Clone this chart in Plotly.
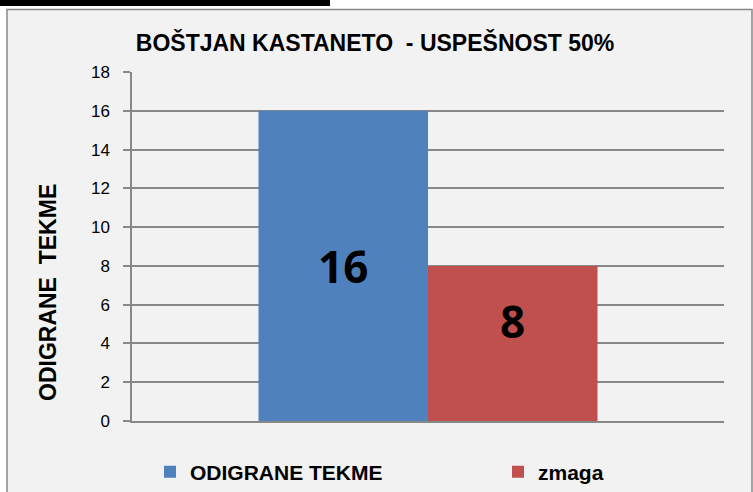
import plotly.graph_objects as go

# ---- data ----
series_names = ["ODIGRANE TEKME", "zmaga"]
series_values = [16, 8]
series_colors = ["#4f81bd", "#c0504d"]
y_ticks = [0, 2, 4, 6, 8, 10, 12, 14, 16, 18]
title_text = "BOŠTJAN KASTANETO  - USPEŠNOST 50%"
y_title = "ODIGRANE  TEKME"

W, H = 753, 492
L, R, T, B = 132, 29, 72, 71
pw, ph = W - L - R, H - T - B

FONT = "Liberation Sans, Arial, sans-serif"
BARGAP = 0.4274


def px_x(p):
    return (p - L) / pw


def px_y(p):
    return (H - B - p) / ph


legend_x = [150, 498]

fig = go.Figure()
for i, (name, val, col) in enumerate(zip(series_names, series_values, series_colors)):
    fig.add_trace(go.Bar(
        x=[0], y=[val], name=name, marker=dict(color=col, line=dict(width=0)),
        hoverinfo="skip", legend="legend" if i == 0 else f"legend{i + 1}",
    ))

# data labels
half = (1 - BARGAP) / 4
label_shift = [0, 22]
for i, (val, ys) in enumerate(zip(series_values, label_shift)):
    fig.add_annotation(
        x=(-half if i == 0 else half), y=val / 2, xref="x", yref="y",
        text=f"<b>{val}</b>", showarrow=False, yshift=ys,
        font=dict(family="Open Sans, sans-serif", size=44, color="black"),
    )

shapes = [
    dict(type="rect", xref="paper", yref="paper", layer="below",
         x0=px_x(7), x1=px_x(752), y0=px_y(520), y1=px_y(9.5),
         fillcolor="#f2f2f2", line=dict(color="#888888", width=1.5)),
    dict(type="rect", xref="paper", yref="paper", layer="above",
         x0=px_x(-2), x1=px_x(330), y0=px_y(6), y1=px_y(-2),
         fillcolor="black", line=dict(width=0)),
]

fig.add_annotation(
    x=px_x(47.5), y=px_y(292.5), xref="paper", yref="paper",
    text=f"<b>{y_title}</b>", textangle=-90, showarrow=False,
    font=dict(family=FONT, size=23, color="black"),
    xanchor="center", yanchor="middle",
)

legend_common = dict(orientation="h", xanchor="left", y=px_y(472), yanchor="middle",
                     xref="paper", yref="paper", bgcolor="rgba(0,0,0,0)",
                     font=dict(family=FONT, size=21, color="black", weight="bold"))

fig.update_layout(
    width=W, height=H,
    margin=dict(l=L, r=R, t=T, b=B, autoexpand=False),
    paper_bgcolor="white", plot_bgcolor="rgba(0,0,0,0)",
    barmode="group", bargap=BARGAP, bargroupgap=0,
    shapes=shapes,
    title=dict(text=f"<b>{title_text}</b>", x=375 / W, xref="container", xanchor="center",
               y=1 - 43 / H, yref="container", yanchor="middle",
               font=dict(family=FONT, size=23, color="black")),
    xaxis=dict(range=[-0.5, 0.5], showticklabels=False, ticks="", showgrid=False,
               showline=True, linecolor="#888888", linewidth=1.5, zeroline=False, fixedrange=True),
    yaxis=dict(range=[0, 18], tickvals=y_ticks, ticks="outside", ticklen=7, tickwidth=1.5,
               tickcolor="#888888", showline=True, linecolor="#888888", linewidth=1.5,
               showgrid=True, gridcolor="#888888", gridwidth=1.5, zeroline=False,
               ticklabelstandoff=10,
               tickfont=dict(family=FONT, size=17, color="black")),
    showlegend=True,
    legend=dict(x=px_x(legend_x[0]), **legend_common),
    legend2=dict(x=px_x(legend_x[1]), **legend_common),
)

fig.write_html("out.html", config={"displayModeBar": False},
               post_script="document.body.style.margin='0px';")
